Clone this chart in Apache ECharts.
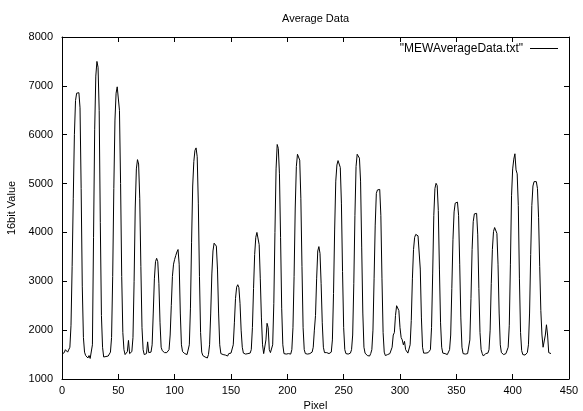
<!DOCTYPE html>
<html>
<head>
<meta charset="utf-8">
<script src="https://cdn.jsdelivr.net/npm/echarts@6/dist/echarts.min.js"></script>
<style>
html,body{margin:0;padding:0;background:#fff;}
#chart{width:583px;height:411px;}
</style>
</head>
<body>
<div id="chart"></div>
<script>
// Pixel index starts at 0, one value per pixel
var pixelStart = 0;
var values = [
1510,1490,1540,1600,1560,1550,1560,1650,2100,3300,
4700,6000,6700,6850,6880,6860,6550,4900,2900,1850,
1550,1480,1460,1430,1480,1420,1450,1700,3900,6100,
7200,7500,7380,6500,4200,2300,1650,1450,1430,1460,
1440,1470,1450,1550,1850,3100,4900,6300,6850,6980,
6950,6500,5000,3100,1950,1600,1500,1480,1560,1790,
1520,1500,1560,1850,3000,4500,5300,5490,5400,4700,
3300,2050,1600,1500,1480,1520,1760,1540,1560,1550,
1700,2350,3050,3400,3470,3400,2950,2150,1650,1580,
1560,1540,1520,1540,1560,1600,1900,2500,3100,3350,
3450,3530,3600,3650,3350,2350,1700,1560,1540,1520,
1530,1500,1520,1700,2450,3800,4950,5450,5680,5730,
5550,4600,3100,1950,1550,1480,1470,1450,1460,1430,
1500,1700,2350,3150,3620,3780,3800,3720,3250,2350,
1700,1520,1480,1500,1460,1490,1500,1470,1520,1500,
1530,1550,1700,2150,2650,2880,2930,2870,2550,2000,
1650,1530,1520,1510,1530,1520,1540,1530,1600,2050,
2850,3550,3900,4000,4010,3750,3050,2250,1700,1520,
1560,1800,2140,2050,1600,1540,1560,1700,2550,4000,
5300,5800,5720,5200,3900,2450,1700,1520,1530,1510,
1550,1520,1540,1510,1600,2050,3100,4500,5350,5600,
5630,5480,4700,3300,2050,1600,1520,1500,1510,1500,
1520,1510,1550,1650,2000,2300,3050,3620,3710,3570,
2950,2150,1650,1540,1530,1540,1510,1520,1530,1550,
1800,2750,4050,5050,5380,5470,5480,5330,4600,3200,
2050,1600,1520,1560,1510,1540,1530,1600,1900,2950,
4350,5350,5600,5640,5520,5050,3700,2350,1650,1530,
1510,1480,1500,1470,1520,1600,2000,3050,4150,4800,
4870,4910,4880,4350,3050,1950,1550,1480,1470,1500,
1490,1520,1540,1650,1900,1950,2300,2500,2535,2400,
2050,1850,1800,1700,1770,1600,1560,1530,1550,1700,
2200,3050,3650,3900,3960,3970,3930,3900,3250,2250,
1650,1530,1510,1530,1520,1540,1550,1600,2050,3150,
4350,4900,5005,4960,4450,3250,2150,1650,1530,1500,
1520,1490,1500,1530,1600,1900,2850,3850,4420,4600,
4640,4620,4350,3350,2250,1650,1520,1500,1510,1490,
1520,1550,1800,2650,3650,4220,4380,4410,4390,3950,
2850,1950,1600,1520,1470,1500,1520,1510,1530,1600,
2000,2950,3650,4020,4100,4110,3980,3350,2350,1700,
1540,1510,1500,1530,1520,1550,1650,2100,3350,4750,
5300,5500,5610,5280,5200,4550,3050,1950,1580,1500,
1520,1490,1530,1540,1700,2350,3550,4550,4950,5040,
5070,5040,4900,4300,3300,2400,1900,1650,1640,1900,
2110,1900,1540,1520,1520
];
var xTicks = [0, 50, 100, 150, 200, 250, 300, 350, 400, 450];
var yTicks = [1000, 2000, 3000, 4000, 5000, 6000, 7000, 8000];
var seriesName = '"MEWAverageData.txt"';
var titleText = 'Average Data';
var xName = 'Pixel';
var yName = '16bit Value';

var data = values.map(function (v, i) { return [pixelStart + i, v]; });

var font = 'Liberation Sans, Arial, Helvetica, sans-serif';
var chart = echarts.init(document.getElementById('chart'), null, {renderer: 'canvas'});
var axisCommon = {
  axisLine: {show: true, onZero: false, lineStyle: {color: '#000', width: 1}},
  axisTick: {show: true, inside: true, length: 5, lineStyle: {color: '#000', width: 1}},
  splitLine: {show: false}
};
chart.setOption({
  animation: false,
  backgroundColor: '#fff',
  title: {
    text: titleText, left: 277, top: 8,
    textStyle: {fontFamily: font, fontSize: 11, fontWeight: 'normal', color: '#000'}
  },
  legend: {
    data: [seriesName], right: 20, top: 37.5, align: 'right',
    itemWidth: 28, itemHeight: 1, itemGap: 6,
    textStyle: {fontFamily: font, fontSize: 12, color: '#000', padding: [0, 2, 0, 0]},
    icon: 'rect',
    itemStyle: {color: '#000', borderWidth: 0}
  },
  grid: {left: 62, right: 14, top: 37, bottom: 32, containLabel: false, outerBoundsMode: 'none'},
  xAxis: [
    Object.assign({
      type: 'value', min: xTicks[0], max: xTicks[xTicks.length - 1], interval: 50,
      name: xName, nameLocation: 'middle', nameGap: 19,
      nameTextStyle: {fontFamily: font, fontSize: 11, color: '#000'},
      axisLabel: {fontFamily: font, fontSize: 11, color: '#000', margin: 6,
        formatter: function (v) { return String(v); }}
    }, axisCommon),
    Object.assign({
      type: 'value', position: 'top', min: xTicks[0], max: xTicks[xTicks.length - 1], interval: 50,
      axisLabel: {show: false}
    }, axisCommon)
  ],
  yAxis: [
    Object.assign({
      type: 'value', min: yTicks[0], max: yTicks[yTicks.length - 1], interval: 1000,
      name: yName, nameLocation: 'middle', nameGap: 39,
      nameTextStyle: {fontFamily: font, fontSize: 11, color: '#000'},
      axisLabel: {fontFamily: font, fontSize: 11, color: '#000', margin: 9,
        formatter: function (v) { return String(v); }}
    }, axisCommon),
    Object.assign({
      type: 'value', position: 'right', min: yTicks[0], max: yTicks[yTicks.length - 1], interval: 1000,
      axisLabel: {show: false}
    }, axisCommon)
  ],
  series: [{
    name: seriesName, type: 'line', data: data,
    xAxisIndex: 0, yAxisIndex: 0,
    showSymbol: false, symbol: 'none', smooth: false,
    lineStyle: {color: '#000', width: 1},
    itemStyle: {color: '#000'}
  }]
});
</script>
</body>
</html>
